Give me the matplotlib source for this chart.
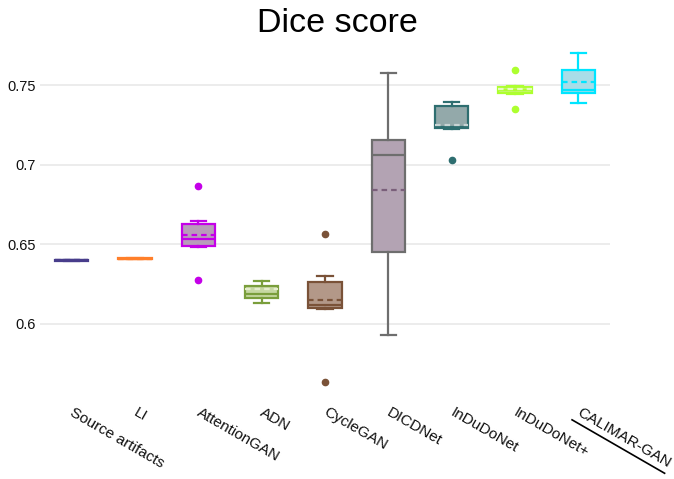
import matplotlib
matplotlib.use('Agg')
import matplotlib.pyplot as plt
from matplotlib.font_manager import FontProperties
from matplotlib.textpath import TextPath
from matplotlib.transforms import Affine2D, ScaledTranslation

plt.rcParams['font.family'] = ['Liberation Sans', 'DejaVu Sans']

# methods and their Dice score box statistics
names = ['Source artifacts', 'LI', 'AttentionGAN', 'ADN', 'CycleGAN',
         'DICDNet', 'InDuDoNet', 'InDuDoNet+', 'CALIMAR-GAN']
whislo = [0.6397, 0.6406, 0.6482, 0.6133, 0.6091, 0.5928, 0.7225, 0.7446, 0.7385]
q1 = [0.6397, 0.6406, 0.6491, 0.6162, 0.6097, 0.6449, 0.7228, 0.7448, 0.7448]
med = [0.6400, 0.6409, 0.6533, 0.6186, 0.6116, 0.7063, 0.7238, 0.7468, 0.7469]
mean = [0.6400, 0.6409, 0.6558, 0.6217, 0.6150, 0.6843, 0.7249, 0.7474, 0.7517]
q3 = [0.6403, 0.6412, 0.6629, 0.6240, 0.6265, 0.7157, 0.7370, 0.7490, 0.7597]
whishi = [0.6403, 0.6412, 0.6646, 0.6271, 0.6303, 0.7578, 0.7393, 0.7492, 0.7703]
outliers = [[], [], [0.6864, 0.6275], [], [0.6562, 0.5636], [],
            [0.7031], [0.7597, 0.7347], []]

line_colors = ['#483d8b', '#ff7f2a', '#c400e8', '#7a9e3c', '#7a5238',
               '#6e6e6e', '#2e6e70', '#adff2f', '#00e5ff']
fill_colors = ['#9c98c0', '#ffbf95', '#b89cba', '#c6d8a2', '#b39888',
               '#b3a3b3', '#93a9aa', '#c9f377', '#a8dde8']
mean_colors = ['#483d8b', '#ff7f2a', '#c400e8', '#e4eccc', '#7a5238',
               '#7a5f7a', '#c8d4d4', '#e8fbc0', '#00e5ff']

W, H = 674, 479
fig = plt.figure(figsize=(W / 100, H / 100), dpi=100)
ax = fig.add_axes([40 / W, 1 - 397.5 / H, 570 / W, (397.5 - 36.3) / H])

for i in range(len(names)):
    st = dict(label=names[i], whislo=whislo[i], q1=q1[i], med=med[i],
              mean=mean[i], q3=q3[i], whishi=whishi[i], fliers=outliers[i])
    c = line_colors[i]
    ax.bxp([st], positions=[i], widths=0.53, capwidths=0.24,
           patch_artist=True, showmeans=True, meanline=True,
           boxprops=dict(facecolor=fill_colors[i], edgecolor=c, linewidth=1.6),
           whiskerprops=dict(color=c, linewidth=1.6),
           capprops=dict(color=c, linewidth=1.6),
           medianprops=dict(color=c, linewidth=1.6),
           meanprops=dict(color=mean_colors[i], linewidth=1.6, linestyle=(0, (2.5, 1.8))),
           flierprops=dict(marker='o', markerfacecolor=c, markeredgecolor=c,
                           markersize=4.5))

ax.set_xlim(-0.5, len(names) - 0.5)
ax.set_ylim(0.5537, 0.7806)
ax.set_yticks([0.6, 0.65, 0.7, 0.75])
ax.set_yticklabels(['0.6', '0.65', '0.7', '0.75'])
ax.set_xticks(range(len(names)))
ax.set_xticklabels(names, rotation=-30, ha='left', va='top', rotation_mode='anchor')
ax.tick_params(axis='y', length=0, pad=3, labelsize=10.5, labelcolor='#111111')
ax.tick_params(axis='x', length=0, pad=5.5, labelsize=11, labelcolor='#111111')
shift = ScaledTranslation(3 / 100, 0, fig.dpi_scale_trans)
for lbl in ax.get_xticklabels():
    lbl.set_transform(lbl.get_transform() + shift)
ax.yaxis.grid(True, color='#ebebeb', linewidth=1.3)
ax.set_axisbelow(True)
for s in ax.spines.values():
    s.set_visible(False)

# underline the proposed method's label, along the rotated text
last = len(names) - 1
tw = TextPath((0, 0), names[last], size=11,
              prop=FontProperties(family='Liberation Sans')).get_extents().width
off = (Affine2D().rotate_deg(-30).translate(3 * 72 / 100, -5.5).scale(fig.dpi / 72)
       + ScaledTranslation(last, 0, ax.get_xaxis_transform()))
ax.plot([-0.5, tw + 1.5], [-12.5, -12.5], color='black', linewidth=1.2,
        transform=off, clip_on=False)

fig.text(0.5, 1 - 24 / H, 'Dice score', ha='center', va='center', fontsize=24.5)

fig.savefig('out.png', dpi=100)
